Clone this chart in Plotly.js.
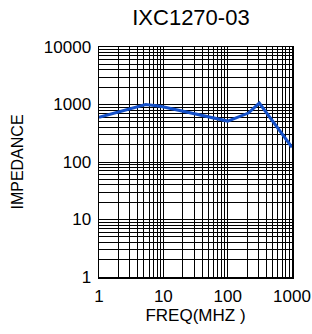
<!DOCTYPE html>
<html><head><meta charset="utf-8">
<script src="https://cdn.plot.ly/plotly-3.0.1.min.js"></script>
<style>html,body{margin:0;padding:0;background:#fff;}#chart{width:312px;height:334px;}</style>
</head><body><div id="chart"></div>
<script>
const freq = [1, 5.3, 9, 100, 210, 310, 1000];
const impedance = [600, 1000, 930, 515, 710, 1060, 180];
const xTickVals = [1, 10, 100, 1000];
const xTickText = ['1', '10', '100', '1000'];
const yTickVals = [1, 10, 100, 1000, 10000];
const yTickText = ['1', '10', '100', '1000', '10000'];

const font = 'Liberation Sans, Arial, sans-serif';
Plotly.newPlot('chart', [{
  x: freq, y: impedance, type: 'scatter', mode: 'lines',
  line: {color: 'rgb(20,80,200)', width: 3}, hoverinfo: 'none'
}], {
  width: 312, height: 334,
  margin: {l: 99, r: 20, t: 47, b: 57, pad: 0},
  paper_bgcolor: '#fff', plot_bgcolor: '#fff',
  showlegend: false,
  title: {text: 'IXC1270-03', font: {family: font, size: 22, color: '#000'}, x: 0.612, xanchor: 'center', y: 0.97, yanchor: 'top'},
  xaxis: {
    type: 'log', range: [0, 3], tickvals: xTickVals, ticktext: xTickText,
    showgrid: true, gridcolor: '#000', gridwidth: 1,
    minor: {dtick: 'D1', showgrid: true, gridcolor: '#000', gridwidth: 1, ticks: ''},
    showline: true, linecolor: '#000', linewidth: 1.5, mirror: true,
    ticks: '', zeroline: false, ticklabelstandoff: 3,
    tickfont: {family: font, size: 17, color: '#000'},
    title: {text: 'FREQ(MHZ )', font: {family: font, size: 17, color: '#000'}, standoff: 4}
  },
  yaxis: {
    type: 'log', range: [0, 4], tickvals: yTickVals, ticktext: yTickText,
    showgrid: true, gridcolor: '#000', gridwidth: 1,
    minor: {dtick: 'D1', showgrid: true, gridcolor: '#000', gridwidth: 1, ticks: ''},
    showline: true, linecolor: '#000', linewidth: 1.5, mirror: true,
    ticks: '', zeroline: false, ticklabelstandoff: 3,
    tickfont: {family: font, size: 17, color: '#000'},
    title: {text: 'IMPEDANCE', font: {family: font, size: 16, color: '#000'}, standoff: 16}
  }
}, {staticPlot: true, displayModeBar: false});
</script></body></html>
